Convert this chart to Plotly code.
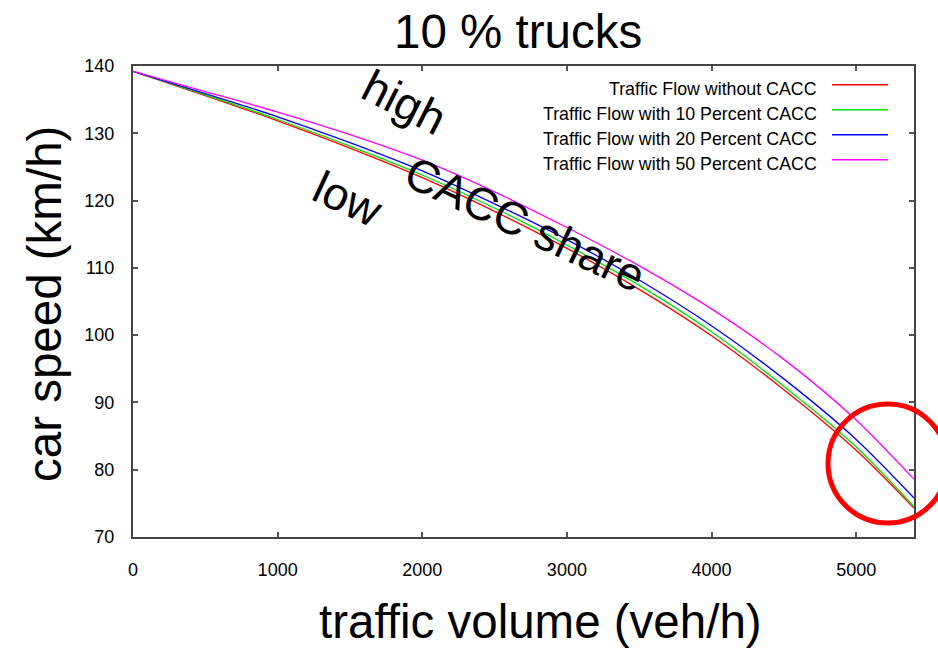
import plotly.graph_objects as go

# ---- data ----
traffic_volume = [0, 500, 1000, 1500, 2000, 2500, 3000, 3500, 4000, 4500, 5000, 5400]
speed_no_cacc = [139.2, 135.6, 131.85, 127.8, 123.4, 118.4, 112.9, 106.8, 99.9, 91.9, 82.9, 74.3]
speed_cacc_10 = [139.2, 135.7, 132.05, 128.1, 123.8, 118.9, 113.4, 107.4, 100.5, 92.4, 83.4, 74.5]
speed_cacc_20 = [139.2, 135.9, 132.45, 128.6, 124.4, 119.5, 114.2, 108.2, 101.4, 93.5, 84.5, 75.8]
speed_cacc_50 = [139.2, 136.2, 133.15, 129.8, 126.0, 121.3, 116.0, 110.3, 103.9, 96.4, 87.4, 78.6]

series_names = [
    "Traffic Flow without CACC",
    "Traffic Flow with 10 Percent CACC",
    "Traffic Flow with 20 Percent CACC",
    "Traffic Flow with 50 Percent CACC",
]
series_values = [speed_no_cacc, speed_cacc_10, speed_cacc_20, speed_cacc_50]
series_colors = ["#ff0000", "#00e000", "#0000ff", "#ff00ff"]

x_ticks = [0, 1000, 2000, 3000, 4000, 5000]
y_ticks = [70, 80, 90, 100, 110, 120, 130, 140]

# ---- layout geometry ----
W, H = 938, 648
L, R, T, B = 133, 24, 66, 111
PW, PH = W - L - R, H - T - B


def px(x, y):
    """pixel position -> paper coordinates"""
    return (x - L) / PW, (H - B - y) / PH


fig = go.Figure()
for name, vals, col in zip(series_names, series_values, series_colors):
    fig.add_trace(go.Scatter(
        x=traffic_volume, y=vals, mode="lines", name=name,
        line=dict(color=col, width=1.3, shape="spline", smoothing=0.8),
        showlegend=False,
    ))

tick_font = dict(family="Liberation Sans, Arial, sans-serif", size=18, color="black")
axis_common = dict(
    showline=True, linecolor="#444444", linewidth=2, mirror="allticks",
    ticks="inside", ticklen=5, tickwidth=1.5, tickcolor="#555555",
    showgrid=False, zeroline=False, tickfont=tick_font,
)

fig.update_xaxes(range=[0, 5400], tickvals=x_ticks, ticktext=[str(v) for v in x_ticks],
                 ticklabelstandoff=15, **axis_common)
fig.update_yaxes(range=[70, 140], tickvals=y_ticks, ticktext=[str(v) for v in y_ticks],
                 ticklabelstandoff=13, **axis_common)

big = dict(family="Liberation Sans, Arial, sans-serif", size=47.5, color="black")
mid = dict(family="Liberation Sans, Arial, sans-serif", size=46, color="black")
annotations = []


def add_text(text, x, y, angle=0, font=big, xanchor="center"):
    xp, yp = px(x, y)
    annotations.append(dict(text=text, x=xp, y=yp, xref="paper", yref="paper",
                            showarrow=False, textangle=angle, font=font,
                            xanchor=xanchor, yanchor="middle"))


add_text("10 % trucks", 518, 31)
add_text("traffic volume (veh/h)", 540, 621)
add_text("car speed (km/h)", 44, 304, angle=-90)
add_text("high", 404, 102, angle=27, font=mid)
add_text("low", 348, 199, angle=25, font=mid)
add_text("CACC share", 525, 224, angle=25, font=mid)

# custom legend (text left of the sample line, gnuplot style)
legend_font = dict(family="Liberation Sans, Arial, sans-serif", size=17.8, color="black")
shapes = []
for i, (name, col) in enumerate(zip(series_names, series_colors)):
    yc = 88.7 + 25 * i
    add_text(name, 819, yc, font=legend_font, xanchor="right")
    x0, y0 = px(832, yc - 4)
    x1, _ = px(888, yc - 4)
    shapes.append(dict(type="line", xref="paper", yref="paper",
                       x0=x0, x1=x1, y0=y0, y1=y0, line=dict(color=col, width=1.5)))

# red highlight circle
cx0, cy0 = px(828, 523)
cx1, cy1 = px(947.5, 404)
shapes.append(dict(type="circle", xref="paper", yref="paper",
                   x0=cx0, x1=cx1, y0=cy0, y1=cy1,
                   line=dict(color="#ff0000", width=5), layer="above"))

fig.update_layout(
    width=W, height=H, autosize=False,
    margin=dict(l=L, r=R, t=T, b=B, pad=0),
    paper_bgcolor="white", plot_bgcolor="white",
    annotations=annotations, shapes=shapes,
    showlegend=False,
)

fig.write_html("out.html",
               config={"displayModeBar": False},
               post_script="document.body.style.margin='0';document.body.style.padding='0';"
                           "document.body.style.overflow='hidden';")
